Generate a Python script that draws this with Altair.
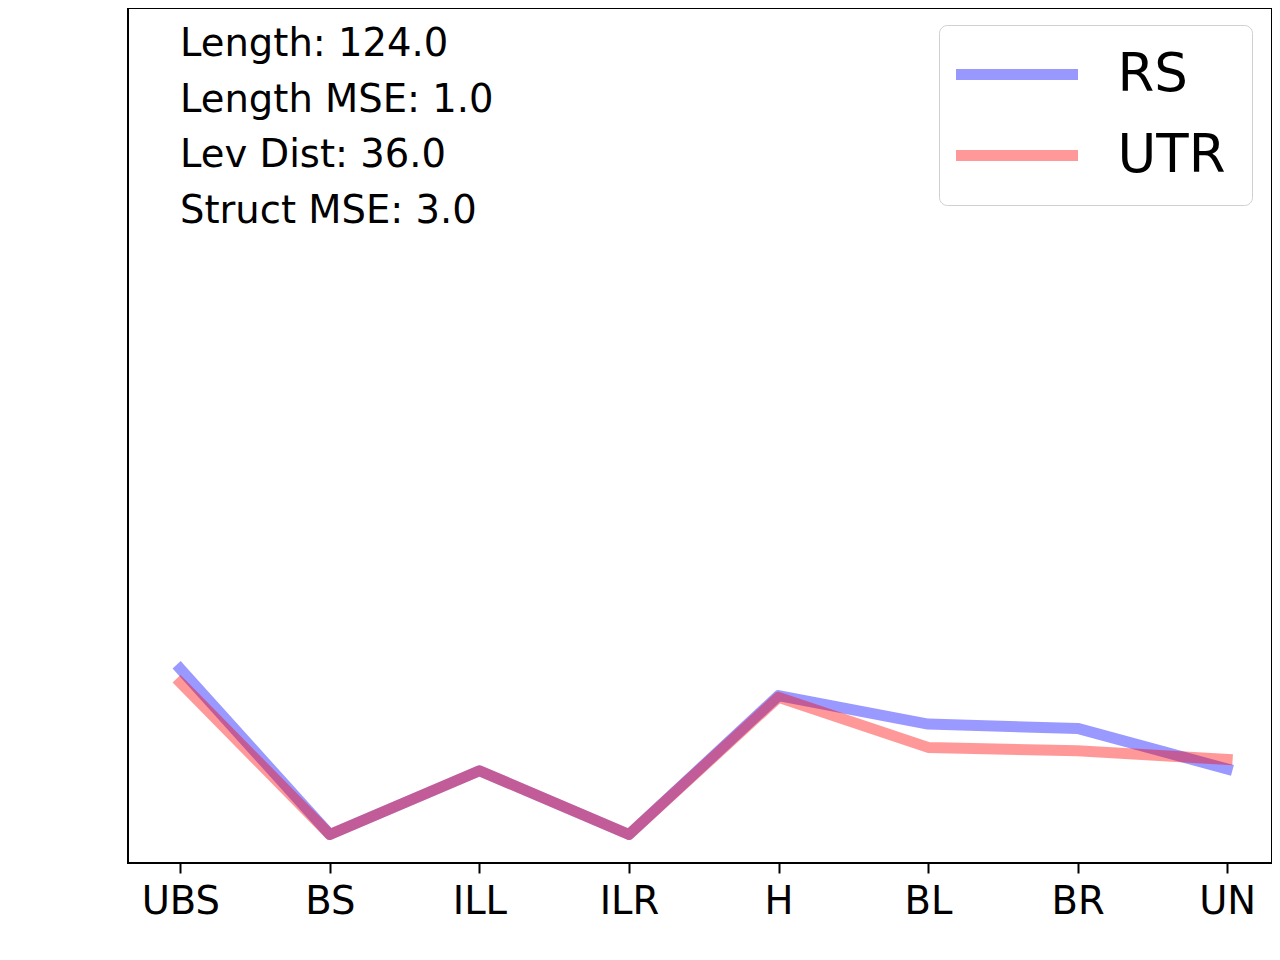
import json
import altair as alt
import pandas as pd

categories = ["UBS", "BS", "ILL", "ILR", "H", "BL", "BR", "UN"]
rs_values = [22.5, 3.3, 10.7, 3.3, 19.4, 16.1, 15.6, 10.9]
utr_values = [20.9, 3.3, 10.7, 3.3, 19.2, 13.4, 13.0, 12.0]
series_names = ["RS", "UTR"]
series_colors = ["#0000ff", "#ff0000"]
annotation_lines = ["Length: 124.0", "Length MSE: 1.0", "Lev Dist: 36.0", "Struct MSE: 3.0"]

rows = []
for name, vals in zip(series_names, [rs_values, utr_values]):
    for i, (c, v) in enumerate(zip(categories, vals)):
        rows.append({"pos": i, "cat": c, "value": v, "series": name})
df = pd.DataFrame(rows)

FONT = "DejaVu Sans"
label_expr = json.dumps(categories) + "[round(datum.value)]"

lines = alt.Chart(df).mark_line(
    strokeWidth=11, opacity=0.4, strokeCap="square", strokeJoin="round"
).encode(
    x=alt.X(
        "pos:Q",
        scale=alt.Scale(domain=[-0.35, 7.30], nice=False, zero=False),
        axis=alt.Axis(title=None, labelAngle=0, domain=False, grid=False,
                      values=list(range(len(categories))), labelExpr=label_expr,
                      tickColor="black", tickWidth=2, tickSize=10,
                      labelFont=FONT, labelFontSize=38.5, labelColor="black",
                      labelPadding=10, labelFlush=False, labelOverlap=False),
    ),
    y=alt.Y("value:Q", scale=alt.Scale(domain=[0, 99.1], nice=False, zero=False), axis=None),
    color=alt.Color(
        "series:N",
        scale=alt.Scale(domain=series_names, range=series_colors),
        legend=alt.Legend(
            orient="none", legendX=811, legendY=17, title=" ",
            titleOrient="right", titleFontSize=1, titlePadding=18,
            symbolType="stroke", symbolSize=14884, symbolStrokeWidth=11,
            symbolOpacity=0.4, labelFontSize=53, labelFont=FONT,
            labelColor="black", labelOffset=34, symbolOffset=2.5,
            padding=9, clipHeight=81, rowPadding=0,
            strokeColor="#d0d0d0", fillColor="white", cornerRadius=8,
        ),
    ),
    detail="series:N",
)

text = alt.Chart(pd.DataFrame({"k": [0]})).mark_text(
    align="left", baseline="alphabetic", fontSize=38.5, font=FONT,
    lineHeight=55.5, color="black", text=annotation_lines,
).encode(x=alt.value(52), y=alt.value(48))

chart = alt.layer(lines, text).properties(
    width=1144, height=855,
    padding={"left": 120, "top": 0, "right": 0, "bottom": 0},
).configure_view(stroke="black", strokeWidth=2)

chart.save("out.html", embed_options={"renderer": "svg", "actions": False})
